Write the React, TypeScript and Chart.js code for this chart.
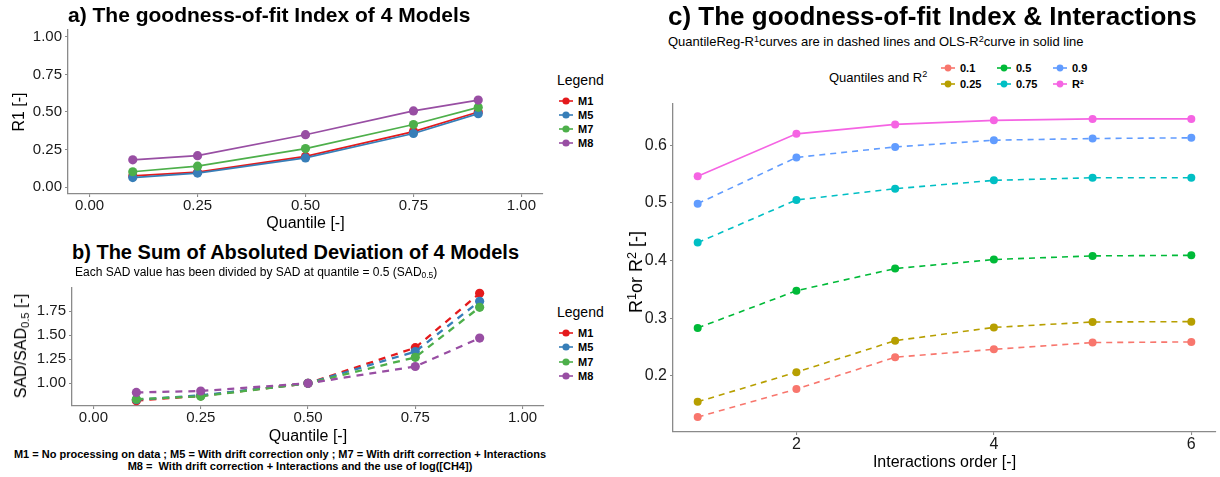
import React, { useEffect, useRef } from "react";
import { Chart, registerables } from "chart.js";

Chart.register(...registerables);

const FONT = '"Liberation Sans", Arial, Helvetica, sans-serif';
const AXIS_COLOR = "#8a8a8a";
const TICK_TEXT = "#1a1a1a";

// ---------- Panels a) and b) ----------
const quantiles = [0.1, 0.25, 0.5, 0.75, 0.9];
const modelNames = ["M1", "M5", "M7", "M8"];
const modelColors = ["#E41A1C", "#377EB8", "#4DAF4A", "#984EA3"];

const r1M1 = [0.075, 0.1, 0.205, 0.37, 0.5];
const r1M5 = [0.064, 0.094, 0.195, 0.357, 0.489];
const r1M7 = [0.103, 0.14, 0.257, 0.417, 0.531];
const r1M8 = [0.182, 0.21, 0.349, 0.507, 0.579];

const sadM1 = [0.82, 0.87, 1.0, 1.37, 1.935];
const sadM5 = [0.83, 0.875, 1.0, 1.33, 1.853];
const sadM7 = [0.835, 0.865, 1.0, 1.27, 1.79];
const sadM8 = [0.905, 0.92, 1.0, 1.175, 1.47];

const quantileTicks = [0, 0.25, 0.5, 0.75, 1];
const r1Ticks = [0, 0.25, 0.5, 0.75, 1];
const sadTicks = [1, 1.25, 1.5, 1.75];

// ---------- Panel c) ----------
const interactionOrders = [1, 2, 3, 4, 5, 6];
const seriesLabels = ["0.1", "0.25", "0.5", "0.75", "0.9", "R²"];
const seriesColors = ["#F8766D", "#B79F00", "#00BA38", "#00BFC4", "#619CFF", "#F564E3"];

const r1Q010 = [0.1285, 0.177, 0.2323, 0.246, 0.2577, 0.2588];
const r1Q025 = [0.155, 0.2063, 0.261, 0.284, 0.2934, 0.294];
const r1Q050 = [0.283, 0.3476, 0.386, 0.4017, 0.408, 0.409];
const r1Q075 = [0.431, 0.505, 0.5245, 0.539, 0.5435, 0.5435];
const r1Q090 = [0.4986, 0.5787, 0.597, 0.6086, 0.6115, 0.6127];
const r2OLS = [0.546, 0.6196, 0.636, 0.643, 0.6455, 0.6455];

const orderTicks = [2, 4, 6];
const fitTicks = [0.2, 0.3, 0.4, 0.5, 0.6];

// ggplot-like 5% expansion of a range
function expand(lo: number, hi: number, f = 0.05) {
  const d = (hi - lo) * f;
  return [lo - d, hi + d];
}

function makeScale(o: any) {
  return {
    type: "linear",
    min: o.min,
    max: o.max,
    afterBuildTicks: (s: any) => {
      s.ticks = o.ticks.map((v: number) => ({ value: v }));
    },
    afterFit: (s: any) => {
      if (o.axis === "x") s.height = o.size;
      else s.width = o.size;
    },
    ticks: {
      callback: (v: any) => o.fmt(Number(v)),
      font: { family: FONT, size: o.fontSize },
      color: TICK_TEXT,
      padding: o.tickPad ?? 2,
      maxRotation: 0,
      minRotation: 0,
      autoSkip: false,
    },
    grid: {
      display: true,
      drawOnChartArea: false,
      drawTicks: true,
      tickLength: 3,
      color: AXIS_COLOR,
      lineWidth: 1.1,
    },
    border: { display: true, color: AXIS_COLOR, width: 1.3 },
    title: o.title
      ? {
          display: true,
          text: o.title,
          font: { family: FONT, size: o.titleSize ?? 16 },
          color: "#000",
          padding: o.titlePad ?? { top: 0, bottom: 0 },
        }
      : { display: false },
  };
}

function lineDataset(label: string, xs: number[], ys: number[], color: string, extra: any) {
  return {
    label,
    data: xs.map((x, i) => ({ x, y: ys[i] })),
    borderColor: color,
    backgroundColor: color,
    pointBackgroundColor: color,
    pointBorderColor: color,
    pointBorderWidth: 0,
    tension: 0,
    ...extra,
  };
}

const basePlugins = {
  legend: { display: false },
  tooltip: { enabled: false },
  title: { display: false },
};

function configA() {
  const series = [r1M1, r1M5, r1M7, r1M8];
  return {
    type: "line",
    data: {
      datasets: series.map((s, i) =>
        lineDataset(modelNames[i], quantiles, s, modelColors[i], {
          borderWidth: 1.7,
          pointRadius: 4.6,
          order: series.length - i,
        })
      ),
    },
    options: {
      animation: false,
      responsive: false,
      events: [],
      layout: { padding: { left: 0, top: 30, right: 12, bottom: 0 } },
      plugins: basePlugins,
      scales: {
        x: makeScale({
          axis: "x", min: -0.05, max: 1.05, ticks: quantileTicks, size: 46,
          fmt: (v: number) => v.toFixed(2), fontSize: 15, tickPad: 0,
          title: "Quantile [-]", titlePad: { top: 0, bottom: 7 },
        }),
        y: makeScale({
          axis: "y", min: -0.045, max: 1.045, ticks: r1Ticks, size: 68,
          fmt: (v: number) => v.toFixed(2), fontSize: 15, tickPad: 3,
          title: "R1 [-]", titlePad: { top: 10, bottom: 0 },
        }),
      },
    },
  };
}

function configB() {
  const series = [sadM1, sadM5, sadM7, sadM8];
  const all = series.flat();
  const [lo, hi] = expand(Math.min(...all), Math.max(...all));
  return {
    type: "line",
    data: {
      datasets: series.map((s, i) =>
        lineDataset(modelNames[i], quantiles, s, modelColors[i], {
          borderWidth: 2.3,
          borderDash: [7, 6],
          pointRadius: 4.6,
          order: series.length - i,
        })
      ),
    },
    options: {
      animation: false,
      responsive: false,
      events: [],
      layout: { padding: { left: 0, top: 11, right: 11, bottom: 0 } },
      plugins: basePlugins,
      scales: {
        x: makeScale({
          axis: "x", min: -0.05, max: 1.05, ticks: quantileTicks, size: 42,
          fmt: (v: number) => v.toFixed(2), fontSize: 15, tickPad: 0,
          title: "Quantile [-]", titlePad: { top: 0, bottom: 2 },
        }),
        y: makeScale({
          axis: "y", min: lo, max: hi, ticks: sadTicks, size: 72,
          fmt: (v: number) => v.toFixed(2), fontSize: 15, tickPad: 3,
        }),
      },
    },
  };
}

function configC() {
  const series = [r1Q010, r1Q025, r1Q050, r1Q075, r1Q090, r2OLS];
  const all = series.flat();
  const [lo, hi] = expand(Math.min(...all), Math.max(...all));
  const [xlo, xhi] = expand(Math.min(...interactionOrders), Math.max(...interactionOrders));
  return {
    type: "line",
    data: {
      datasets: series.map((s, i) =>
        lineDataset(seriesLabels[i], interactionOrders, s, seriesColors[i], {
          borderWidth: 1.6,
          borderDash: i === 5 ? [] : [6, 5],
          pointRadius: 4,
          order: series.length - i,
        })
      ),
    },
    options: {
      animation: false,
      responsive: false,
      events: [],
      layout: { padding: { left: 0, top: 14, right: 4, bottom: 0 } },
      plugins: basePlugins,
      scales: {
        x: makeScale({
          axis: "x", min: xlo, max: xhi, ticks: orderTicks, size: 45,
          fmt: (v: number) => String(v), fontSize: 16, tickPad: 0,
          title: "Interactions order [-]", titlePad: { top: 0, bottom: 5 },
        }),
        y: makeScale({
          axis: "y", min: lo, max: hi, ticks: fitTicks, size: 53,
          fmt: (v: number) => v.toFixed(1), fontSize: 16, tickPad: 3,
        }),
      },
    },
  };
}

function ChartBox(props: { left: number; top: number; width: number; height: number; build: () => any }) {
  const ref = useRef<HTMLCanvasElement>(null);
  useEffect(() => {
    const chart = new Chart(ref.current as HTMLCanvasElement, props.build());
    return () => chart.destroy();
  }, []);
  return (
    <canvas
      ref={ref}
      width={props.width}
      height={props.height}
      style={{ position: "absolute", left: props.left, top: props.top, width: props.width, height: props.height }}
    />
  );
}

// Text positioned by its baseline
function T(props: {
  x: number;
  baseline: number;
  size: number;
  bold?: boolean;
  center?: boolean;
  children: any;
}) {
  const top = props.baseline - 0.8465 * props.size;
  return (
    <div
      style={{
        position: "absolute",
        left: props.x,
        top,
        fontSize: props.size,
        lineHeight: `${props.size}px`,
        fontWeight: props.bold ? 700 : 400,
        whiteSpace: "nowrap",
        transform: props.center ? "translateX(-50%)" : undefined,
        color: "#000",
      }}
    >
      {props.children}
    </div>
  );
}

const supStyle: React.CSSProperties = {
  fontSize: "0.7em",
  position: "relative",
  top: "-0.5em",
  lineHeight: 0,
};
const subStyle: React.CSSProperties = {
  fontSize: "0.7em",
  position: "relative",
  top: "0.3em",
  lineHeight: 0,
};

function RotatedTitle(props: { cx: number; cy: number; size: number; children: any }) {
  return (
    <div
      style={{
        position: "absolute",
        left: props.cx,
        top: props.cy,
        fontSize: props.size,
        lineHeight: `${props.size}px`,
        whiteSpace: "nowrap",
        transform: "translate(-50%, -50%) rotate(-90deg)",
        color: "#000",
      }}
    >
      {props.children}
    </div>
  );
}

function Key(props: { x: number; cy: number; color: string; r: number }) {
  return (
    <svg
      width={16}
      height={10}
      style={{ position: "absolute", left: props.x - 8, top: props.cy - 5 }}
    >
      <line x1={1} y1={5} x2={15} y2={5} stroke={props.color} strokeWidth={1.6} />
      <circle cx={8} cy={5} r={props.r} fill={props.color} />
    </svg>
  );
}

function ModelLegend(props: { titleCy: number; itemCys: number[] }) {
  return (
    <>
      <T x={557} baseline={props.titleCy + 5} size={14}>
        Legend
      </T>
      {modelNames.map((m, i) => (
        <React.Fragment key={m}>
          <Key x={566} cy={props.itemCys[i]} color={modelColors[i]} r={3.6} />
          <T x={578} baseline={props.itemCys[i] + 4} size={11} bold>
            {m}
          </T>
        </React.Fragment>
      ))}
    </>
  );
}

export default function App() {
  const legendCols = [948, 1004, 1060];
  const legendRows = [68, 84];
  return (
    <div
      style={{
        position: "absolute",
        left: 0,
        top: 0,
        width: 1220,
        height: 477,
        background: "#fff",
        overflow: "hidden",
        fontFamily: FONT,
      }}
    >
      {/* Panel a */}
      <ChartBox left={0} top={0} width={555} height={240} build={configA} />
      <T x={68} baseline={22} size={21} bold>
        a) The goodness-of-fit Index of 4 Models
      </T>
      <ModelLegend titleCy={80} itemCys={[101, 115, 129, 143]} />

      {/* Panel b */}
      <ChartBox left={0} top={276} width={555} height={172} build={configB} />
      <T x={72} baseline={259} size={20} bold>
        b) The Sum of Absoluted Deviation of 4 Models
      </T>
      <T x={75} baseline={276} size={12}>
        Each SAD value has been divided by SAD at quantile = 0.5 (SAD<span style={subStyle}>0.5</span>)
      </T>
      <RotatedTitle cx={21} cy={346} size={16}>
        SAD/SAD<span style={subStyle}>0.5</span> [-]
      </RotatedTitle>
      <ModelLegend titleCy={312} itemCys={[333, 347, 362, 376]} />
      <T x={280} baseline={458} size={11} bold center>
        M1 = No processing on data ; M5 = With drift correction only ; M7 = With drift correction + Interactions
      </T>
      <T x={300} baseline={470} size={11} bold center>
        M8 = &nbsp;With drift correction + Interactions and the use of log([CH4])
      </T>

      {/* Panel c */}
      <ChartBox left={620} top={90} width={600} height={387} build={configC} />
      <T x={668} baseline={25} size={26} bold>
        c) The goodness-of-fit Index &amp; Interactions
      </T>
      <T x={668} baseline={46.5} size={13}>
        QuantileReg-R<span style={supStyle}>1</span>curves are in dashed lines and OLS-R<span style={supStyle}>2</span>curve in solid line
      </T>
      <T x={829} baseline={81.6} size={13}>
        Quantiles and R<span style={supStyle}>2</span>
      </T>
      {seriesLabels.map((lab, i) => {
        const cx = legendCols[Math.floor(i / 2)];
        const cy = legendRows[i % 2];
        return (
          <React.Fragment key={lab}>
            <Key x={cx} cy={cy} color={seriesColors[i]} r={3.4} />
            <T x={cx + 12} baseline={cy + 4} size={11} bold>
              {lab}
            </T>
          </React.Fragment>
        );
      })}
      <RotatedTitle cx={636} cy={272} size={18}>
        R<span style={supStyle}>1</span>or R<span style={supStyle}>2</span> [-]
      </RotatedTitle>
    </div>
  );
}
